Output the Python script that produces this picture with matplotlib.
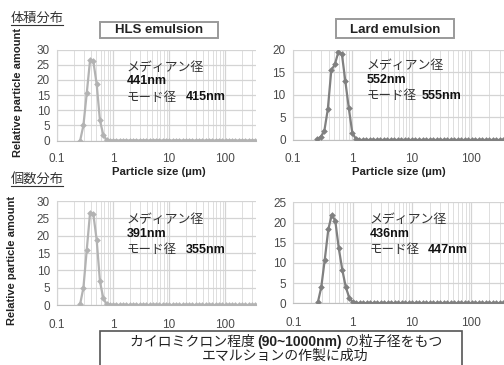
import matplotlib
matplotlib.use("Agg")
import matplotlib.pyplot as plt
from matplotlib.patches import Rectangle
from matplotlib.lines import Line2D
from matplotlib.ticker import LogLocator, FixedLocator, FixedFormatter, NullFormatter

W, H = 504, 365
CJK = ["Noto Sans CJK JP", "DejaVu Sans"]
LAT = ["Liberation Sans", "DejaVu Sans"]

# particle size bins (um)
sizes = [0.259, 0.296, 0.339, 0.389, 0.445, 0.510, 0.584, 0.669, 0.766, 0.877,
         1.005, 1.151, 1.318, 1.510, 1.729, 1.981, 2.269, 2.599, 2.976, 3.409,
         3.905, 4.472, 5.122, 5.867, 6.720, 7.697, 8.816, 10.097, 11.565, 13.246,
         15.172, 17.377, 19.904, 22.797, 26.111, 29.907, 34.255, 39.234, 44.938, 51.471,
         58.953, 67.523, 77.340, 88.583, 101.460, 116.210, 133.103, 152.453, 174.616, 200.000,
         229.075, 262.376, 300.518, 344.206, 394.244]

hls_volume = [0.0, 5.0, 15.5, 26.5, 26.1, 18.6, 6.6, 1.9, 0.2, 0.0,
              0, 0, 0, 0, 0, 0, 0, 0, 0, 0,
              0, 0, 0, 0, 0, 0, 0, 0, 0, 0,
              0, 0, 0, 0, 0, 0, 0, 0, 0, 0,
              0, 0, 0, 0, 0, 0, 0, 0, 0, 0,
              0, 0, 0, 0, 0]
lard_volume = [0.15, 0.7, 1.9, 6.8, 15.4, 16.7, 19.4, 19.1, 13.0, 7.0,
               1.5, 0.3, 0, 0, 0, 0, 0, 0, 0, 0,
               0, 0, 0, 0, 0, 0, 0, 0, 0, 0,
               0, 0, 0, 0, 0, 0, 0, 0, 0, 0,
               0, 0, 0, 0, 0, 0, 0, 0, 0, 0,
               0, 0, 0, 0, 0]
hls_number = [0.3, 5.0, 15.8, 26.6, 26.2, 18.8, 6.8, 2.0, 0.3, 0.0,
              0, 0, 0, 0, 0, 0, 0, 0, 0, 0,
              0, 0, 0, 0, 0, 0, 0, 0, 0, 0,
              0, 0, 0, 0, 0, 0, 0, 0, 0, 0,
              0, 0, 0, 0, 0, 0, 0, 0, 0, 0,
              0, 0, 0, 0, 0]
lard_number = [0.2, 4.0, 10.8, 18.3, 21.9, 20.4, 13.6, 8.3, 4.0, 1.4,
               0.25, 0, 0, 0, 0, 0, 0, 0, 0, 0,
               0, 0, 0, 0, 0, 0, 0, 0, 0, 0,
               0, 0, 0, 0, 0, 0, 0, 0, 0, 0,
               0, 0, 0, 0, 0, 0, 0, 0, 0, 0,
               0, 0, 0, 0, 0]

xticks = [0.1, 1, 10, 100]
xticklabels = ["0.1", "1", "10", "100"]

panels = [
    # series, ymax, color, left, right, top, bottom (px), median, mode
    (hls_volume, 30, "#b3b3b3", 57, 256, 49.5, 140.5, "441nm", "415nm"),
    (lard_volume, 20, "#808080", 292.7, 504, 49.5, 140.0, "552nm", "555nm"),
    (hls_number, 30, "#b3b3b3", 57, 256, 201, 305, "391nm", "355nm"),
    (lard_number, 25, "#808080", 293.3, 504, 202.3, 303.3, "436nm", "447nm"),
]
text_pos = [(127, 67, 186), (367, 66, 422), (127, 220, 186), (370, 220, 428)]

fig = plt.figure(figsize=(W / 100, H / 100), dpi=100)


def fx(x):
    return x / W


def fy(y):
    return 1 - y / H


for i, (ys, ymax, col, l, r, t, b, med, mode) in enumerate(panels):
    ax = fig.add_axes([fx(l), fy(b), (r - l) / W, (b - t) / H])
    ax.set_xscale("log")
    ax.set_xlim(0.1, 355)
    ax.set_ylim(0, ymax)
    ax.xaxis.set_major_locator(FixedLocator(xticks))
    ax.xaxis.set_major_formatter(FixedFormatter(xticklabels))
    ax.xaxis.set_minor_locator(LogLocator(base=10, subs=range(2, 10)))
    ax.xaxis.set_minor_formatter(NullFormatter())
    ax.set_yticks(range(0, ymax + 1, 5))
    ax.grid(True, which="major", color="#d4d4d4", lw=0.9)
    ax.grid(True, which="minor", axis="x", color="#dedede", lw=0.7)
    for s in ["top", "right"]:
        ax.spines[s].set_visible(False)
    ax.spines["left"].set_color("#d4d4d4")
    ax.spines["bottom"].set_color("#bfbfbf")
    ax.tick_params(which="both", length=0)
    ax.tick_params(axis="y", pad=5, labelsize=8.5, labelcolor="#4a4a4a")
    ax.tick_params(axis="x", pad=9 if i < 2 else 10, labelsize=8.5, labelcolor="#4a4a4a")
    for lab in ax.get_xticklabels() + ax.get_yticklabels():
        lab.set_family(LAT)
    ax.plot(sizes, ys, color=col, lw=1.6, marker="D", ms=3.4, mew=0, zorder=3)

    tx, ty, mx = text_pos[i]
    fig.text(fx(tx), fy(ty), "メディアン径", family=CJK, fontsize=9.3, color="#333333", va="center")
    fig.text(fx(tx), fy(ty + 14), med, family=LAT, fontsize=9, weight="bold", color="#111111", va="center")
    fig.text(fx(tx), fy(ty + 30), "モード径", family=CJK, fontsize=9, color="#333333", va="center")
    fig.text(fx(mx), fy(ty + 30), mode, family=LAT, fontsize=9, weight="bold", color="#111111", va="center")

# x axis labels
fig.text(fx(159), fy(172), "Particle size (µm)", family=LAT, fontsize=8.2, weight="bold",
         color="#222222", ha="center", va="center")
fig.text(fx(399), fy(172), "Particle size (µm)", family=LAT, fontsize=8.2, weight="bold",
         color="#222222", ha="center", va="center")
# y axis labels
fig.text(fx(18), fy(92), "Relative particle amount", family=LAT, fontsize=8, weight="bold",
         color="#222222", ha="center", va="center", rotation=90)
fig.text(fx(12), fy(260), "Relative particle amount", family=LAT, fontsize=8, weight="bold",
         color="#222222", ha="center", va="center", rotation=90)

# section titles with underline
for ty, title in [(18, "体積分布"), (179, "個数分布")]:
    fig.text(fx(11), fy(ty), title, family=CJK, fontsize=9.5, color="#333333", va="center")
    fig.add_artist(Line2D([fx(11), fx(63)], [fy(ty + 7), fy(ty + 7)], color="#333333", lw=0.8))

# emulsion name boxes
for (bl, bt, br, bb, name) in [(100, 22, 218, 38, "HLS emulsion"), (336, 19, 454, 38, "Lard emulsion")]:
    fig.add_artist(Rectangle((fx(bl), fy(bb)), (br - bl) / W, (bb - bt) / H, transform=fig.transFigure,
                             fill=True, facecolor="white", edgecolor="#9a9a9a", lw=1.4))
    fig.text(fx((bl + br) / 2), fy(30), name, family=LAT, fontsize=9.5, weight="bold",
             color="#222222", ha="center", va="center")

# bottom conclusion box
fig.add_artist(Rectangle((fx(100), fy(368)), 362 / W, 37 / H, transform=fig.transFigure,
                         fill=True, facecolor="white", edgecolor="#555555", lw=1.2))
pieces = [("カイロミクロン程度 ", CJK, "normal"), ("(90~1000nm)", LAT, "bold"), (" の粒子径をもつ", CJK, "normal")]
renderer = fig.canvas.get_renderer()
objs = []
total = 0
for txt, fam, wt in pieces:
    o = fig.text(0, fy(342), txt, family=fam, fontsize=10, weight=wt, color="#222222", va="center")
    w = o.get_window_extent(renderer).width
    objs.append((o, w))
    total += w
x0 = 286 - total / 2
for o, w in objs:
    o.set_x(fx(x0))
    x0 += w
fig.text(fx(285), fy(356), "エマルションの作製に成功", family=CJK, fontsize=10, color="#222222",
         ha="center", va="center")

fig.savefig("out.png", dpi=100)
